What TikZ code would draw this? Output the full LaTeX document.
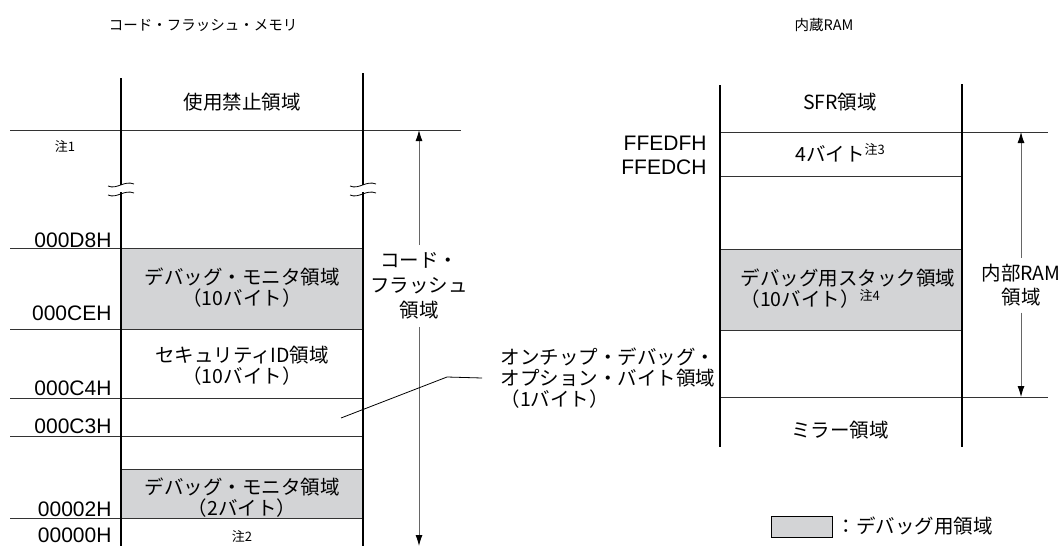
\documentclass[tikz,border=0pt]{standalone}
\usepackage{fontspec}
\setmainfont{Liberation Sans}
\newfontfamily\jp{Noto Sans CJK JP}
\usetikzlibrary{arrows.meta}
\definecolor{dbg}{RGB}{211,212,214}
\begin{document}
\begin{tikzpicture}[x=1pt,y=-1pt,line width=1pt,
  every node/.style={inner sep=1pt,font=\jp\fontsize{19.5}{21}\selectfont},
  addr/.style={anchor=east,font=\fontsize{21}{24}\selectfont},
  note/.style={font=\jp\fontsize{13}{14}\selectfont},
  title/.style={font=\jp\fontsize{14.5}{16}\selectfont},
  col/.style={line width=2pt},
  sep/.style={line width=.9pt,black!80},
  dim/.style={line width=.9pt,black!60,-{Latex[length=11pt,width=7pt,black]}}]
  \path[use as bounding box] (0,0) rectangle (1064,546);
  \node[title] (tcf) at (203,25) {コード・フラッシュ・メモリ};
  \node[title] (tram) at (824,25) {内蔵RAM};
  % code flash
  \fill[dbg] (121,248) rectangle (363,329);
  \fill[dbg] (121,469) rectangle (363,518);
  \draw[sep] (10,130)--(461,130) (10,248)--(363,248) (10,329)--(363,329)
    (10,398)--(363,398) (10,436)--(363,436) (121,469)--(363,469) (10,518)--(363,518);
  \draw[col] (121,78)--(121,185) (121,192)--(121,546);
  \draw[col] (363,73)--(363,185) (363,192)--(363,546);
  \draw[line width=.8pt] (108,186) .. controls (117,190) and (124,180) .. (134,184)
    (108,195) .. controls (117,199) and (124,189) .. (134,193);
  \draw[line width=.8pt] (350,186) .. controls (359,190) and (366,180) .. (376,184)
    (350,195) .. controls (359,199) and (366,189) .. (376,193);
  \node[addr] (a1) at (113,240) {000D8H};
  \node[addr] (a2) at (113,313) {000CEH};
  \node[addr] (a3) at (113,388) {000C4H};
  \node[addr] (a4) at (113,426) {000C3H};
  \node[addr] (a5) at (113,509) {00002H};
  \node[addr] (a6) at (113,535) {00000H};
  \node (ng) at (242,102) {使用禁止領域};
  \node[note] (n1) at (65,146) {注1};
  \node[align=center] (dm10) at (242,288) {デバッグ・モニタ領域\\（10バイト）};
  \node[align=center] (sid) at (242,366) {セキュリティID領域\\（10バイト）};
  \node[align=center] (dm2) at (242,498) {デバッグ・モニタ領域\\（2バイト）};
  \node[note] (n2) at (242,536) {注2};
  \coordinate (cft) at (419,130);
  \coordinate (cfb) at (419,546);
  \node[align=center,font=\jp\fontsize{19.5}{25}\selectfont,inner ysep=7pt] (cfl) at (419,286) {コード・\\フラッシュ\\領域};
  \draw[dim] (cfl)--(cft);
  \draw[dim] (cfl)--(cfb);
  % option byte
  \coordinate (ob) at (341,418);
  \coordinate (obk) at (447,377);
  \node[anchor=west,align=left,inner xsep=18pt] (obl) at (482,378)
    {オンチップ・デバッグ・\\オプション・バイト領域\\（1バイト）};
  \draw[line width=.8pt] (ob)--(obk)--(obl.west);
  % internal RAM
  \fill[dbg] (720,249) rectangle (962,330);
  \draw[sep] (720,132)--(1048,132) (720,176)--(962,176) (720,249)--(962,249)
    (720,330)--(962,330) (720,397)--(1048,397);
  \draw[col] (720,85)--(720,447) (962,84)--(962,447);
  \node (sfr) at (840,102) {SFR領域};
  \node (b4) at (840,153) {4バイト\raisebox{.6ex}{\fontsize{13}{13}\selectfont 注3}};
  \node[addr] (r1) at (708,143) {FFEDFH};
  \node[addr] (r2) at (708,167) {FFEDCH};
  \node[anchor=west,align=left] (stk) at (739,289) {デバッグ用スタック領域\\（10バイト）\raisebox{.6ex}{\fontsize{13}{13}\selectfont 注4}};
  \node (mir) at (840,430) {ミラー領域};
  \coordinate (rt) at (1021,132);
  \coordinate (rb) at (1021,397);
  \node[align=center,font=\jp\fontsize{19.5}{24}\selectfont,inner ysep=6pt] (raml) at (1021,285) {内部RAM\\領域};
  \draw[dim] (raml)--(rt);
  \draw[dim] (raml)--(rb);
  % legend
  \node[draw,fill=dbg,line width=.9pt,minimum width=61pt,minimum height=21pt,inner sep=0pt] (lgb) at (801.5,526.5) {};
  \node[anchor=west] (lgt) at (835,526) {：デバッグ用領域};
\end{tikzpicture}
\end{document}
